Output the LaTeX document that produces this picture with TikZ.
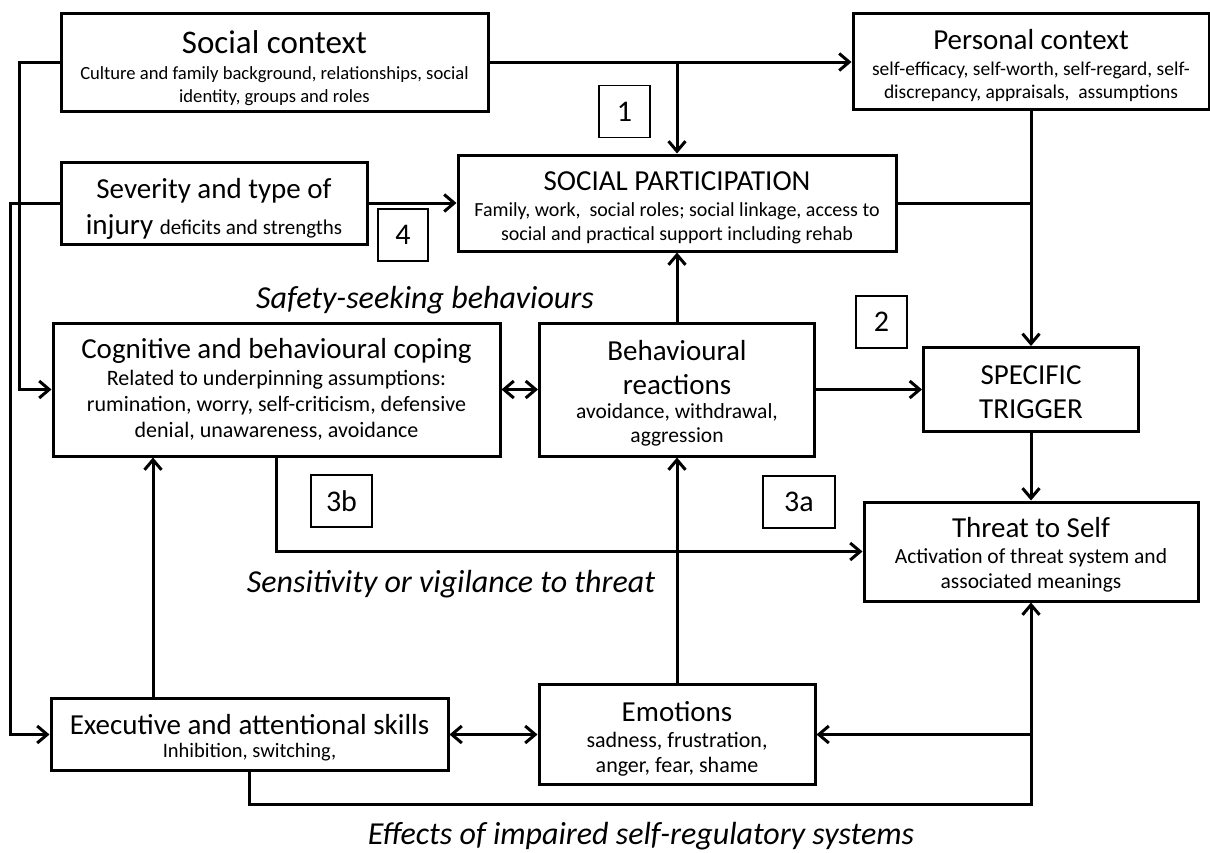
\documentclass[tikz,border=0pt]{standalone}
\usepackage{fontspec}
\setmainfont{Carlito}
\usetikzlibrary{arrows.meta,positioning}

\newcommand{\headsize}{\fontsize{29}{34}\selectfont}
\newcommand{\tstrut}[1]{\rule{0pt}{#1pt}}

\begin{document}
\begin{tikzpicture}[x=1pt, y=-1pt,
    box/.style={rectangle, draw, line width=3pt, align=center, inner sep=2pt},
    numbox/.style={rectangle, draw, line width=1.2pt, minimum width=51, minimum height=52, font=\fontsize{30}{34}\selectfont},
    lab/.style={font=\fontsize{32}{38}\selectfont\itshape},
    arr/.style={line width=3pt, -{Straight Barb[length=10pt,width=17pt]}},
    arrs/.style={line width=3pt, {Straight Barb[length=10pt,width=17pt]}-{Straight Barb[length=10pt,width=17pt]}}
]
    \useasboundingbox (0,0) rectangle (1210,852);

    % boxes
    \node[box, minimum width=427, minimum height=98, font=\fontsize{18.6}{23}\selectfont] (social) at (274.5,62) {
        {\fontsize{33}{38}\selectfont\tstrut{35}Social context} \\[3pt]
        Culture and family background, relationships, social \\
        identity, groups and roles
    };
    \node[box, minimum width=356, minimum height=96, font=\fontsize{19.5}{23}\selectfont] (personal) at (1031,61) {
        {\headsize\tstrut{30}Personal context} \\[3pt]
        self-efficacy, self-worth, self-regard, self- \\
        discrepancy, appraisals,\ \ assumptions
    };
    \node[box, minimum width=306, minimum height=82, font=\headsize] (severity) at (214,203) {
        \tstrut{31}Severity and type of \\[2pt]
        injury {\fontsize{21}{25}\selectfont deficits and strengths}
    };
    \node[box, minimum width=438, minimum height=96, font=\fontsize{20}{24}\selectfont] (sp) at (677,203) {
        {\headsize\tstrut{29}SOCIAL PARTICIPATION} \\[2pt]
        Family, work,\ \ social roles; social linkage, access to \\
        social and practical support including rehab
    };
    \node[box, minimum width=447, minimum height=133, font=\fontsize{22}{26}\selectfont] (cognitive) at (276.5,389.5) {
        {\headsize Cognitive and behavioural coping} \\[1pt]
        Related to underpinning assumptions: \\
        rumination, worry, self-criticism, defensive \\
        denial, unawareness, avoidance
    };
    \node[box, minimum width=275, minimum height=133, font=\fontsize{21.5}{24}\selectfont] (behav) at (677,389.5) {
        {\headsize\tstrut{28}Behavioural} \\[10pt]
        {\headsize reactions} \\
        avoidance, withdrawal, \\
        aggression
    };
    \node[box, minimum width=215, minimum height=84, font=\headsize] (specific) at (1031,389.5) {
        \tstrut{24}SPECIFIC \\ TRIGGER
    };
    \node[box, minimum width=334, minimum height=99, font=\fontsize{21.5}{25}\selectfont] (threat) at (1031,551.5) {
        {\headsize\tstrut{27.5}Threat to Self} \\[1pt]
        Activation of threat system and \\
        associated meanings
    };
    \node[box, minimum width=397, minimum height=72, font=\fontsize{20.5}{23}\selectfont] (exec) at (249.5,734.5) {
        {\headsize\tstrut{26.5}Executive and attentional skills} \\
        Inhibition, switching,
    };
    \node[box, minimum width=276, minimum height=100, font=\fontsize{22}{25}\selectfont] (emotions) at (677,734.5) {
        {\headsize\tstrut{29}Emotions} \\[1pt]
        sadness, frustration, \\
        anger, fear, shame
    };

    % numbered tags
    \node[numbox] (n1) at (624.5,111.5) {1};
    \node[numbox] (n2) at (881.5,322) {2};
    \node[numbox, minimum width=72] (n3a) at (799,502) {3a};
    \node[numbox, minimum width=61] (n3b) at (341.5,501) {3b};
    \node[numbox, minimum width=50] (n4) at (403,235) {4};

    % italic labels
    \node[lab] (safety) at (425,300) {Safety-seeking behaviours};
    \node[lab] (vigil) at (451,584) {Sensitivity or vigilance to threat};
    \node[lab] (effects) at (641,836) {Effects of impaired self-regulatory systems};

    \coordinate (up) at (153,0);

    % connectors
    \draw[arr] (social.east) -- (social.east -| personal.west);
    \draw[arr] (social.east -| sp.north) -- (sp.north);
    \draw[arr] (social.west) -- ++(-40,0) |- (cognitive.west);
    \draw[arr] (severity.west) -- ++(-49,0) |- (exec.west);
    \draw[arr] (severity.east) -- (sp.west |- severity.east);
    \draw[arr] (personal.south) -- (specific.north);
    \draw[line width=3pt] (sp.east) -- (sp.east -| personal.south);
    \draw[arr] (behav.north) -- (sp.south);
    \draw[arrs] (cognitive.east) -- (behav.west);
    \draw[arr] (behav.east) -- (specific.west);
    \draw[arr] (specific.south) -- (threat.north);
    \draw[arr] (cognitive.south) |- (threat.west);
    \draw[arr] (exec.north -| up) -- (cognitive.south -| up);
    \draw[arr] (emotions.north) -- (behav.south);
    \draw[arrs] (exec.east) -- (emotions.west);
    \draw[arr] (exec.south) -- ++(0,32) -| (threat.south);
    \draw[arr] (threat.south |- emotions.east) -- (emotions.east);
\end{tikzpicture}
\end{document}
